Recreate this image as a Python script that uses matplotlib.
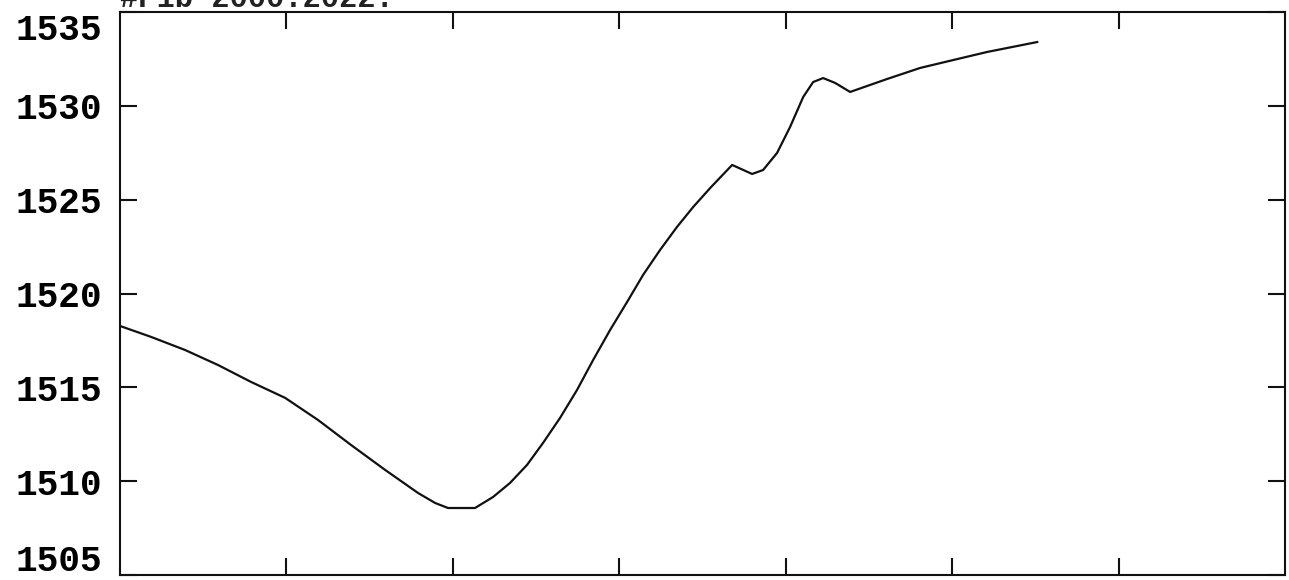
import matplotlib
matplotlib.use('Agg')
import matplotlib.pyplot as plt
import matplotlib.transforms as mtransforms
import numpy as np

# values
x = [0.0, 0.186, 0.391, 0.589, 0.787, 0.992, 1.190, 1.388, 1.593, 1.791,
     1.893, 1.971, 2.133, 2.242, 2.344, 2.446, 2.542, 2.644, 2.746, 2.843,
     2.945, 3.047, 3.143, 3.245, 3.347, 3.444, 3.546, 3.678, 3.798, 3.864,
     3.948, 4.026, 4.105, 4.165, 4.225, 4.297, 4.387, 4.609, 4.808, 5.006,
     5.210, 5.511]
y = [1518.27, 1517.69, 1516.99, 1516.19, 1515.29, 1514.44, 1513.26, 1511.93,
     1510.60, 1509.37, 1508.84, 1508.57, 1508.57, 1509.16, 1509.91, 1510.87,
     1512.04, 1513.37, 1514.86, 1516.46, 1518.06, 1519.55, 1520.99, 1522.32,
     1523.55, 1524.61, 1525.62, 1526.85, 1526.37, 1526.58, 1527.49, 1528.87,
     1530.47, 1531.27, 1531.48, 1531.22, 1530.74, 1531.43, 1532.02, 1532.44,
     1532.87, 1533.40]

xticks = [1, 2, 3, 4, 5, 6]
yticks = [1505, 1510, 1515, 1520, 1525, 1530, 1535]
title = "#P1b 2000:2022."

fig = plt.figure(figsize=(12.89, 5.80), dpi=100)
ax = fig.add_axes([0.0931, 0.0086, 0.9038, 0.9707])

ax.plot(x, y, color='#111111', lw=1.6, solid_joinstyle='round')

ax.set_xlim(0, 7)
ax.set_ylim(1505, 1535)
ax.set_xticks(xticks)
ax.set_yticks(yticks)
ax.set_xticklabels([])
ax.set_yticklabels([str(v) for v in yticks], fontfamily='Liberation Mono',
                   fontweight='bold', fontsize=26)
ax.tick_params(axis='both', direction='in', length=12, width=1.5,
               color='#111111', top=True, right=True)
ax.tick_params(axis='y', pad=13)
for s in ax.spines.values():
    s.set_linewidth(1.5)
    s.set_color('#111111')

# end labels sit inside the frame in the reference
labels = ax.get_yticklabels()
labels[0].set_transform(labels[0].get_transform() +
                        mtransforms.ScaledTranslation(0, 18 / 100, fig.dpi_scale_trans))
labels[-1].set_transform(labels[-1].get_transform() +
                         mtransforms.ScaledTranslation(0, -14 / 100, fig.dpi_scale_trans))

fig.text(120 / 1289, 1 - 7 / 580, title, fontfamily='Liberation Mono',
         fontweight='bold', fontsize=22, va='baseline', ha='left', color='#222222')

fig.savefig('out.png', dpi=100)
